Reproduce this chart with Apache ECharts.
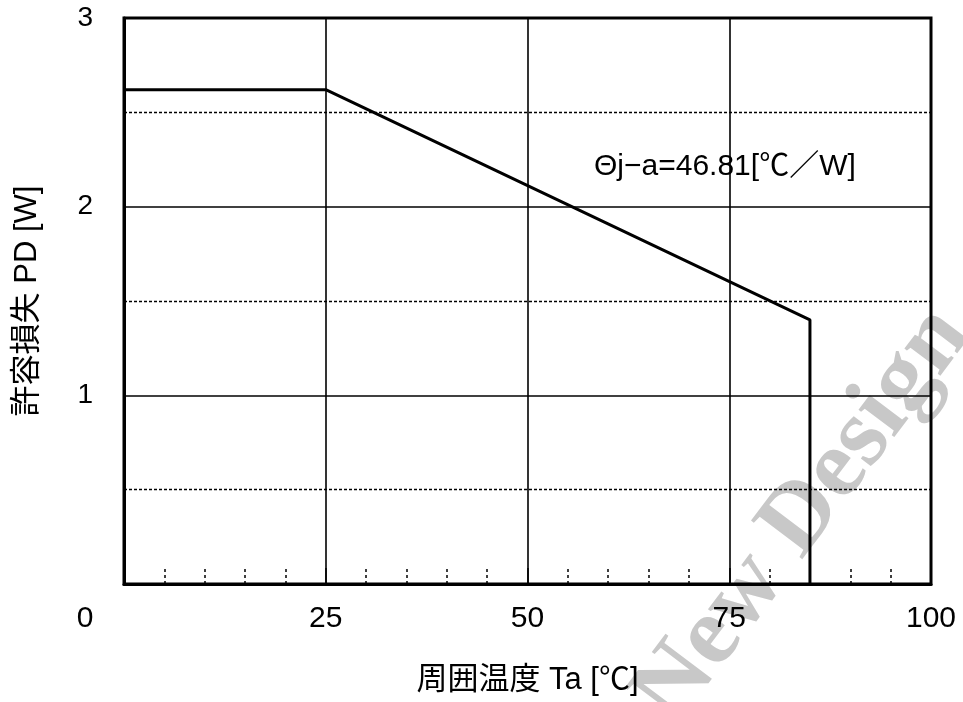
<!DOCTYPE html>
<html>
<head>
<meta charset="utf-8">
<script src="https://cdn.jsdelivr.net/npm/echarts@6/dist/echarts.min.js"></script>
<style>
  html, body { margin: 0; padding: 0; background: #fff; }
  #chart { width: 963px; height: 702px; }
</style>
</head>
<body>
<div id="chart"></div>
<script>
// Derating curve: ambient temperature (°C) vs allowable power dissipation (W)
const ambientTemp = [0, 25, 85, 85];
const powerDissipation = [2.62, 2.62, 1.40, 0];
const xTickValues = [0, 25, 50, 75, 100];
const yTickValues = [0, 1, 2, 3];
const thermalNote = 'Θj−a=46.81[℃／W]';
const xTitle = '周囲温度 Ta [℃]';
const yTitle = '許容損失 PD [W]';

const FONT = '"Liberation Sans", "Noto Sans CJK JP", sans-serif';

const chart = echarts.init(document.getElementById('chart'), null, { renderer: 'canvas' });

const curve = ambientTemp.map((t, i) => [t, powerDissipation[i]]);

chart.setOption({
  animation: false,
  backgroundColor: '#fff',
  textStyle: { fontFamily: FONT, color: '#000' },
  grid: {
    left: 124, right: 32, top: 18, bottom: 118,
    show: true, borderColor: '#000', borderWidth: 3,
    backgroundColor: 'transparent'
  },
  xAxis: {
    type: 'value',
    min: xTickValues[0], max: xTickValues[xTickValues.length - 1], interval: 25,
    name: xTitle, nameLocation: 'middle', nameGap: 81,
    nameTextStyle: { fontSize: 31, fontFamily: FONT, color: '#000' },
    axisLine: { show: true, lineStyle: { color: '#000', width: 3 } },
    axisTick: { show: true, inside: true, length: 16, lineStyle: { color: '#000', width: 1.5 } },
    minorTick: { show: true, splitNumber: 5, length: 16, lineStyle: { color: '#000', width: 1.5, type: [3, 3] } },
    splitLine: { show: true, lineStyle: { color: '#000', width: 1.6 } },
    axisLabel: {
      fontSize: 30, color: '#000', fontFamily: FONT, margin: 20,
      formatter: v => (v === 0 ? '{z|0}' : String(v)),
      rich: { z: { fontSize: 30, fontFamily: FONT, color: '#000', padding: [0, 78, 0, 0] } }
    }
  },
  yAxis: {
    type: 'value',
    min: yTickValues[0], max: yTickValues[yTickValues.length - 1], interval: 1,
    name: yTitle, nameLocation: 'middle', nameGap: 81, nameRotate: 90,
    nameTextStyle: { fontSize: 31, fontFamily: FONT, color: '#000' },
    axisLine: { show: true, lineStyle: { color: '#000', width: 3 } },
    axisTick: { show: false },
    minorTick: { show: false, splitNumber: 2 },
    splitLine: { show: true, lineStyle: { color: '#000', width: 1.6 } },
    minorSplitLine: { show: true, lineStyle: { color: '#000', width: 1.4, type: [3, 2] } },
    axisLabel: {
      fontSize: 28, color: '#000', fontFamily: FONT, margin: 31,
      formatter: v => (v === 0 ? '' : String(v))
    }
  },
  series: [{
    type: 'line',
    data: curve,
    symbol: 'none',
    lineStyle: { color: '#000', width: 3 },
    z: 5
  }],
  graphic: [
    {
      type: 'text', z: -10, silent: true,
      x: 694, y: 742, rotation: 53 * Math.PI / 180,
      style: {
        text: 'New Design', fill: '#c8c8c8',
        font: 'bold 98px "Liberation Serif", serif',
        align: 'left', verticalAlign: 'bottom'
      }
    },
    {
      type: 'text', z: 10,
      x: 594, y: 167,
      style: {
        text: thermalNote, fill: '#000',
        font: '30px ' + FONT,
        align: 'left', verticalAlign: 'middle'
      }
    }
  ]
});
</script>
</body>
</html>
